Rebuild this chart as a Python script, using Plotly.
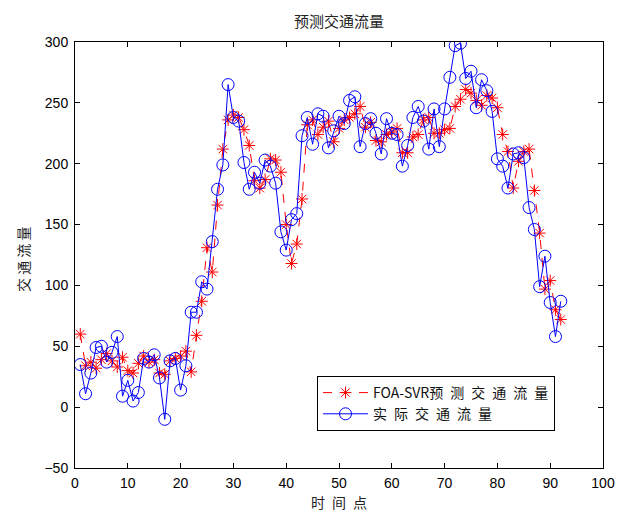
import plotly.graph_objects as go

x_points = list(range(1, 93))

actual = [35, 11, 28, 49, 50, 37, 45, 58, 9, 22, 5, 12, 40, 37, 43, 24, -10, 38, 40, 14,
          34, 78, 78, 103, 97, 136, 179, 199, 265, 238, 235, 201, 179, 193, 184, 203, 198, 184, 144, 129,
          154, 159, 223, 238, 216, 241, 239, 213, 227, 239, 233, 252, 255, 214, 233, 237, 225, 208, 237, 225,
          224, 198, 215, 238, 247, 235, 212, 245, 214, 245, 271, 297, 299, 270, 276, 246, 269, 260, 243, 204,
          198, 180, 208, 209, 205, 164, 146, 99, 124, 86, 58, 87]

predicted = [60, 34, 37, 32, 39, 44, 38, 33, 41, 30, 28, 36, 42, 37, 39, 28, 27, 38, 40, 42,
             46, 29, 59, 87, 131, 111, 166, 212, 236, 240, 238, 228, 215, 186, 180, 187, 204, 203, 193, 150,
             118, 134, 171, 232, 236, 224, 230, 235, 218, 229, 236, 238, 241, 247, 230, 234, 219, 218, 224, 226,
             229, 209, 209, 222, 224, 236, 238, 225, 225, 228, 229, 247, 253, 261, 258, 252, 248, 256, 254, 246,
             224, 210, 180, 202, 210, 212, 178, 143, 97, 104, 80, 72]

SP = "\u2002"
title_text = "预测交通流量"
xlabel = SP.join("时间点")
ylabel = " ".join("交通流量")
name_pred = "FOA-SVR" + SP.join("预测交通流量")
name_actual = SP.join("实际交通流量")
x_ticks = [0, 10, 20, 30, 40, 50, 60, 70, 80, 90, 100]
y_ticks = [-50, 0, 50, 100, 150, 200, 250, 300]

cjk = "Noto Sans CJK SC"
latin = "Liberation Sans, Arial"

fig = go.Figure()
fig.add_trace(go.Scatter(
    x=x_points, y=predicted, name=name_pred, mode="lines+markers",
    line=dict(color="#ff0000", width=1, dash="dash"),
    marker=dict(symbol="asterisk-open", size=10, color="#ff0000", line=dict(color="#ff0000", width=1)),
))
fig.add_trace(go.Scatter(
    x=x_points, y=actual, name=name_actual, mode="lines+markers",
    line=dict(color="#0000ff", width=1),
    marker=dict(symbol="circle-open", size=12, color="#0000ff", line=dict(color="#0000ff", width=1)),
))

axis_common = dict(
    showline=True, linecolor="black", linewidth=1, mirror="ticks",
    ticks="inside", ticklen=5, tickcolor="black", showgrid=False, zeroline=False,
    tickfont=dict(family=latin, size=14, color="black"), automargin=False,
)

fig.update_layout(
    width=618, height=512,
    margin=dict(l=75, r=15, t=42, b=44),
    paper_bgcolor="white", plot_bgcolor="white",
    title=dict(text=title_text, x=0.5, xref="paper", y=1 - 22 / 512, yref="container", yanchor="middle",
               font=dict(family=cjk, size=15, color="#222")),
    xaxis=dict(range=[0, 100], tickvals=x_ticks, ticklabelstandoff=2, **axis_common),
    yaxis=dict(range=[-50, 300], tickvals=y_ticks, ticklabelstandoff=3, **axis_common),
    legend=dict(x=(317 - 75) / 528, y=(468 - 376) / 426, xanchor="left", yanchor="top",
                bordercolor="black", borderwidth=1, bgcolor="white",
                font=dict(family=cjk, size=14, color="#111"),
                tracegroupgap=0, itemwidth=45),
    showlegend=True,
    annotations=[
        dict(text=xlabel, xref="paper", yref="paper", x=0.5, y=-(502 - 468) / 426,
             yanchor="middle", showarrow=False, font=dict(family=cjk, size=14, color="#222")),
        dict(text=ylabel, xref="paper", yref="paper", x=-(75 - 23) / 528, y=(468 - 260) / 426,
             xanchor="center", yanchor="middle", textangle=-90, showarrow=False,
             font=dict(family=cjk, size=14, color="#222")),
    ],
)

fig.write_html("out.html", config={"displayModeBar": False},
               post_script="document.body.style.margin='0';document.body.style.overflow='hidden';")
